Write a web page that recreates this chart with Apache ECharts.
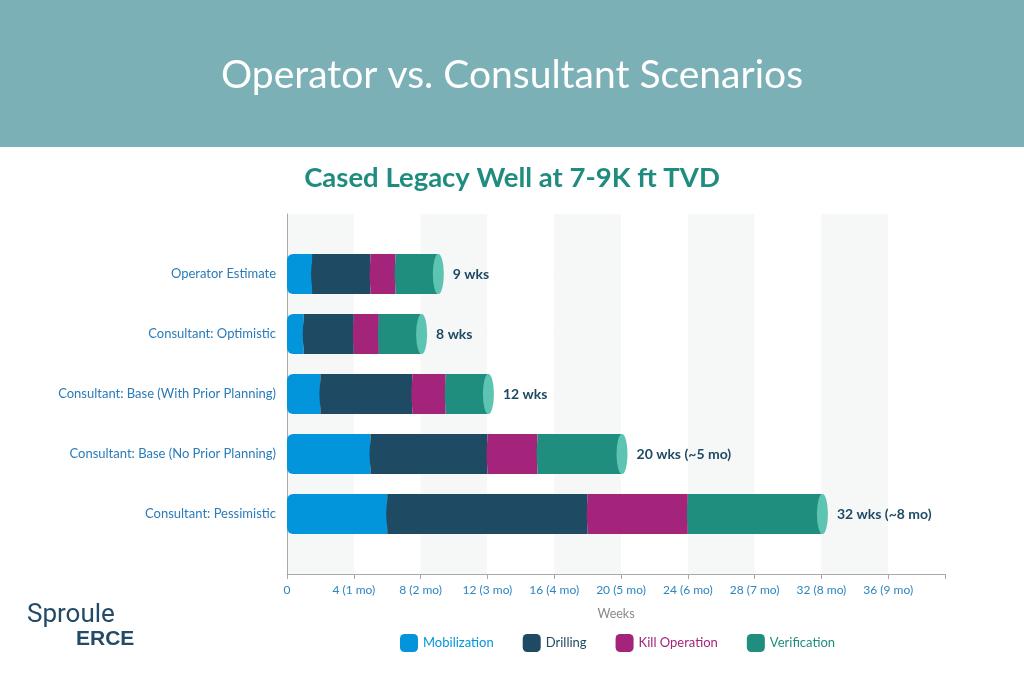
<!DOCTYPE html>
<html>
<head>
<meta charset="utf-8">
<script src="https://cdn.jsdelivr.net/npm/echarts@6/dist/echarts.min.js"></script>
<style>
  html, body { margin: 0; padding: 0; background: #fff; }
  #chart { width: 1024px; height: 681px; }
</style>
</head>
<body>
<div id="chart"></div>
<script>
const scenarios = [
    'Operator Estimate',
    'Consultant: Optimistic',
    'Consultant: Base (With Prior Planning)',
    'Consultant: Base (No Prior Planning)',
    'Consultant: Pessimistic'
];
const mobilization = [1.5, 1, 2, 5, 6];
const drilling = [3.5, 3, 5.5, 7, 12];
const killOperation = [1.5, 1.5, 2, 3, 6];
const verification = [2.5, 2.5, 2.5, 5, 8];
const totalLabels = ['9 wks', '8 wks', '12 wks', '20 wks (~5 mo)', '32 wks (~8 mo)'];
const tickLabels = ['0', '4 (1 mo)', '8 (2 mo)', '12 (3 mo)', '16 (4 mo)', '20 (5 mo)', '24 (6 mo)', '28 (7 mo)', '32 (8 mo)', '36 (9 mo)'];

const phaseNames = ['Mobilization', 'Drilling', 'Kill Operation', 'Verification'];
const phaseColors = ['#0395dc', '#1f4a63', '#a3247a', '#1f8e7e'];
const capColor = '#5cc4b0';
const FONT = 'Lato';

// empty slot above and below so the bars sit on the category ticks
const yCats = [''].concat(scenarios, ['']);
const pad = arr => ['-'].concat(arr, ['-']);

const phases = [mobilization, drilling, killOperation, verification];

// curved joins between segments (the cylinder look)
const joins = [];
scenarios.forEach((name, i) => {
    let start = 0;
    phases.forEach((arr, p) => {
        if (p > 0) {
            joins.push({ value: [start, i + 1], itemStyle: { color: phaseColors[p] } });
        }
        start += arr[i];
    });
});
const caps = scenarios.map((name, i) => {
    const total = phases.reduce((s, arr) => s + arr[i], 0);
    return { value: [total, i + 1], label: { formatter: totalLabels[i] } };
});

const chart = echarts.init(document.getElementById('chart'));

const barSeries = phases.map((arr, p) => ({
    name: phaseNames[p],
    type: 'bar',
    stack: 'total',
    barWidth: 40,
    data: pad(arr),
    itemStyle: {
        color: phaseColors[p],
        borderRadius: p === 0 ? [6, 0, 0, 6] : 0
    },
    z: 2
}));

chart.setOption({
    animation: false,
    textStyle: { fontFamily: FONT },
    graphic: [
        { type: 'rect', left: 0, top: 0, shape: { width: 1024, height: 147 }, style: { fill: '#7ab0b6' }, z: -1 },
        {
            type: 'text', left: 'center', top: 56,
            style: { text: 'Operator vs. Consultant Scenarios', fill: '#fff', font: '400 39px Lato' }
        },
        {
            type: 'text', left: 'center', top: 164,
            style: { text: 'Cased Legacy Well at 7-9K ft TVD', fill: '#1e8c7e', font: '700 27.5px Lato' }
        },
        {
            type: 'text', left: 27, top: 602,
            style: { text: 'Sproule', fill: '#234a66', font: '400 26px "Liberation Sans Narrow", Roboto' }
        },
        {
            type: 'text', left: 76, top: 629,
            style: { text: 'ERCE', fill: '#234a66', font: '900 21px "Liberation Sans", Roboto' }
        }
    ],
    grid: { left: 287, right: 79, top: 214, bottom: 107 },
    legend: {
        left: 395,
        top: 629,
        itemWidth: 18,
        itemHeight: 18,
        itemGap: 29,
        icon: 'roundRect',
        data: phaseNames.map((n, p) => ({ name: n, textStyle: { color: phaseColors[p] } })),
        textStyle: { fontSize: 13, fontFamily: FONT }
    },
    xAxis: {
        type: 'value',
        min: 0,
        max: 39.4,
        interval: 4,
        name: 'Weeks',
        nameLocation: 'middle',
        nameGap: 33,
        nameTextStyle: { color: '#8a8a8a', fontSize: 12.5 },
        axisLine: { show: true, lineStyle: { color: '#a9a9a9' } },
        axisTick: { show: true, length: 5, lineStyle: { color: '#a9a9a9' } },
        axisLabel: {
            color: '#2e86c1',
            fontSize: 12,
            margin: 10,
            formatter: v => (v % 4 === 0 ? tickLabels[v / 4] : '')
        },
        splitLine: { show: false },
        splitArea: { show: true, areaStyle: { color: ['#f6f7f7', '#ffffff'] } }
    },
    yAxis: {
        type: 'category',
        data: yCats,
        inverse: true,
        boundaryGap: false,
        axisLine: { show: true, lineStyle: { color: '#a9a9a9' } },
        axisTick: { show: false },
        axisLabel: { color: '#2b7bb9', fontSize: 13, margin: 11 },
        splitLine: {
            show: true,
            interval: idx => idx > 0 && idx < yCats.length - 1,
            lineStyle: { color: '#e3e3e3' }
        }
    },
    series: barSeries.concat([
        {
            name: 'joins',
            type: 'scatter',
            symbol: 'circle',
            symbolSize: [10, 40],
            symbolOffset: [4, 0],
            itemStyle: { opacity: 1 },
            data: joins,
            z: 3,
            silent: true
        },
        {
            name: 'caps',
            type: 'scatter',
            symbol: 'circle',
            symbolSize: [11, 40],
            symbolOffset: [1, 0],
            itemStyle: { color: capColor, opacity: 1 },
            label: {
                show: true,
                position: 'right',
                distance: 9,
                color: '#1f4a63',
                fontWeight: 'bold',
                fontSize: 14
            },
            data: caps,
            z: 4,
            silent: true
        }
    ])
});
</script>
</body>
</html>
